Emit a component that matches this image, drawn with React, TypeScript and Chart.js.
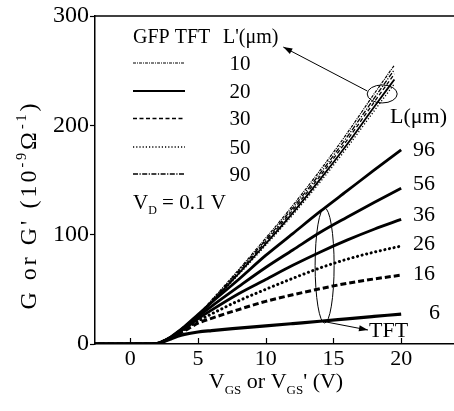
import React, { useEffect, useRef } from "react";
import { Chart, registerables } from "chart.js";

Chart.register(...registerables);

// ---------- data ----------
const tftVgs = [-3, 0, 1, 2, 2.5, 3, 3.5, 4, 5, 6, 8, 10, 12, 14, 16, 18, 20];
const gfpVgs = [-3, 0, 1, 2, 2.5, 3, 3.5, 4, 5, 6, 8, 10, 12, 14, 16, 18, 19.5];

const tftLengths = ["96", "56", "36", "26", "16", "6"];
const tftL96 = [0, 0, 0, 0.5, 3, 6.5, 11, 16, 27, 38, 59, 81, 101, 121, 140, 159, 177.5];
const tftL56 = [0, 0, 0, 0.5, 3, 6.3, 10.5, 15, 25, 34.5, 52.5, 70, 86, 102, 116, 129.5, 142.5];
const tftL36 = [0, 0, 0, 0.5, 2.9, 6, 10, 14, 23, 31, 46, 59, 72, 84, 95, 105, 114];
const tftL26 = [0, 0, 0, 0.5, 2.8, 5.8, 9.5, 13, 21, 27.5, 39.5, 50, 60, 69.5, 77.5, 84, 89.6];
const tftL16 = [0, 0, 0, 0.5, 2.7, 5.6, 9, 12, 19, 23.5, 31.5, 39, 45, 50.5, 55.5, 59.5, 63];
const tftL6 = [0, 0, 0, 0.4, 2.2, 4.6, 7, 8.8, 11, 12.3, 14.5, 16.6, 18.7, 20.8, 23, 25.2, 27.4];

const gfpLengths = ["10", "20", "30", "50", "90"];
const gfpL10 = [0, 0, 0, 0.5, 3.1, 6.7, 11.3, 16.5, 26.8, 40.2, 68, 96.8, 126.7, 158.6, 192.6, 228.7, 255];
const gfpL20 = [0, 0, 0, 0.5, 2.9, 6.3, 10.7, 15.6, 25.4, 38.1, 64.4, 91.7, 120, 150.3, 182.5, 216.7, 242];
const gfpL30 = [0, 0, 0, 0.5, 3, 6.5, 11, 15.9, 25.9, 38.8, 65.7, 93.6, 122.5, 153.4, 186.3, 221.1, 247];
const gfpL50 = [0, 0, 0, 0.5, 2.9, 6.2, 10.6, 15.4, 25, 37.4, 63.4, 90.2, 118.1, 147.8, 179.5, 213.1, 238];
const gfpL90 = [0, 0, 0, 0.5, 3, 6.6, 11.1, 16.2, 26.3, 39.5, 66.8, 95.1, 124.5, 155.8, 189.2, 224.6, 251];

const xTickValues = [0, 5, 10, 15, 20];
const yTickValues = [0, 100, 200, 300];

const FONT = "'Liberation Serif', 'DejaVu Serif', serif";

type Style = { width: number; dash: number[]; cap?: CanvasLineCap };

const tftSeries = [tftL96, tftL56, tftL36, tftL26, tftL16, tftL6];
const tftStyles: Style[] = [
  { width: 2.8, dash: [] },
  { width: 2.8, dash: [] },
  { width: 2.8, dash: [] },
  { width: 3, dash: [0.1, 4.6], cap: "round" },
  { width: 3, dash: [6, 3] },
  { width: 3.2, dash: [] },
];

const gfpSeries = [gfpL10, gfpL20, gfpL30, gfpL50, gfpL90];
const gfpStyles: Style[] = [
  { width: 1.2, dash: [3, 1, 1, 1] },
  { width: 1.8, dash: [] },
  { width: 1.3, dash: [4, 2.5] },
  { width: 1.3, dash: [1.2, 2] },
  { width: 1.3, dash: [5, 1.5, 1.2, 1.5] },
];

function pairs(xs: number[], ys: number[]) {
  return xs.map((x, i) => ({ x, y: ys[i] }));
}

function drawArrow(ctx: CanvasRenderingContext2D, x1: number, y1: number, x2: number, y2: number) {
  ctx.beginPath();
  ctx.moveTo(x1, y1);
  ctx.lineTo(x2, y2);
  ctx.stroke();
  const a = Math.atan2(y2 - y1, x2 - x1);
  const len = 9;
  const w = 3;
  ctx.beginPath();
  ctx.moveTo(x2, y2);
  ctx.lineTo(x2 - len * Math.cos(a) + w * Math.sin(a), y2 - len * Math.sin(a) - w * Math.cos(a));
  ctx.lineTo(x2 - len * Math.cos(a) - w * Math.sin(a), y2 - len * Math.sin(a) + w * Math.cos(a));
  ctx.closePath();
  ctx.fill();
}

type Piece = { t: string; size: number; dy: number };

function measurePieces(ctx: CanvasRenderingContext2D, pieces: Piece[]) {
  let w = 0;
  for (const p of pieces) {
    ctx.font = `${p.size}px ${FONT}`;
    w += ctx.measureText(p.t).width;
  }
  return w;
}

function drawPieces(ctx: CanvasRenderingContext2D, pieces: Piece[], x: number, y: number) {
  let cx = x;
  for (const p of pieces) {
    ctx.font = `${p.size}px ${FONT}`;
    ctx.fillText(p.t, cx, y + p.dy);
    cx += ctx.measureText(p.t).width;
  }
}

const annotations = {
  id: "annotations",
  afterDraw(chart: any) {
    const ctx: CanvasRenderingContext2D = chart.ctx;
    const { left, right, top, bottom } = chart.chartArea;
    const xs = chart.scales.x;
    const ys = chart.scales.y;
    ctx.save();
    ctx.strokeStyle = "#000";
    ctx.fillStyle = "#000";

    // top frame line
    ctx.lineWidth = 1.5;
    ctx.beginPath();
    ctx.moveTo(left, top);
    ctx.lineTo(right, top);
    ctx.stroke();

    // inward x ticks
    ctx.lineWidth = 1.2;
    for (const v of xTickValues) {
      const px = Math.round(xs.getPixelForValue(v)) + 0.5;
      ctx.beginPath();
      ctx.moveTo(px, bottom);
      ctx.lineTo(px, bottom - 6);
      ctx.stroke();
    }

    // legend for GFP TFT
    ctx.textBaseline = "middle";
    ctx.textAlign = "left";
    ctx.font = `20px ${FONT}`;
    ctx.fillText("GFP TFT", left + 38, top + 22);
    ctx.fillText("L'(\u03bcm)", left + 128, top + 22);
    const rowY = [63, 91, 118.5, 147, 174];
    gfpStyles.forEach((s, i) => {
      const y = rowY[i];
      ctx.lineWidth = s.width;
      ctx.setLineDash(s.dash);
      ctx.beginPath();
      ctx.moveTo(left + 38, y);
      ctx.lineTo(left + 90, y);
      ctx.stroke();
      ctx.setLineDash([]);
      ctx.textAlign = "center";
      ctx.font = `21px ${FONT}`;
      ctx.fillText(gfpLengths[i], left + 145, y + 1);
      ctx.textAlign = "left";
    });

    // V_D = 0.1 V
    ctx.textBaseline = "alphabetic";
    drawPieces(
      ctx,
      [
        { t: "V", size: 21, dy: 0 },
        { t: "D", size: 12, dy: 5 },
        { t: " = 0.1 V", size: 21, dy: 0 },
      ],
      left + 38,
      209
    );

    // right-side labels
    ctx.textBaseline = "middle";
    ctx.font = `22px ${FONT}`;
    ctx.fillText("L(\u03bcm)", 390, 117);
    const labY = [150, 184, 215, 244, 274, 313];
    const labX = [413, 413, 413, 413, 413, 429];
    tftLengths.forEach((t, i) => ctx.fillText(t, labX[i], labY[i]));
    ctx.fillText("TFT", 369, 331);

    // ellipses and arrows
    ctx.lineWidth = 1;
    const g1x = xs.getPixelForValue(18.6);
    const g1y = ys.getPixelForValue(228.7);
    ctx.beginPath();
    ctx.ellipse(g1x, g1y, 15, 9, 0, 0, Math.PI * 2);
    ctx.stroke();
    drawArrow(ctx, g1x - 15, g1y - 3, xs.getPixelForValue(11.3), ys.getPixelForValue(271.6));

    const t1x = xs.getPixelForValue(14.35);
    const t1y = ys.getPixelForValue(71.8);
    ctx.beginPath();
    ctx.ellipse(t1x, t1y, 9.5, 57.5, 0, 0, Math.PI * 2);
    ctx.stroke();
    drawArrow(ctx, t1x - 1, t1y + 56, xs.getPixelForValue(17.55), ys.getPixelForValue(12.8));

    // x title
    ctx.textBaseline = "alphabetic";
    const xt: Piece[] = [
      { t: "V", size: 22, dy: 0 },
      { t: "GS", size: 13, dy: 6 },
      { t: " or V", size: 22, dy: 0 },
      { t: "GS", size: 13, dy: 6 },
      { t: "' (V)", size: 22, dy: 0 },
    ];
    const xw = measurePieces(ctx, xt);
    drawPieces(ctx, xt, 276 - xw / 2, 388);

    // y title (rotated)
    ctx.save();
    ctx.translate(36, 205);
    ctx.rotate(-Math.PI / 2);
    (ctx as any).letterSpacing = "3px";
    const yt: Piece[] = [
      { t: "G or G' (10", size: 24, dy: 0 },
      { t: "-9", size: 14, dy: -10 },
      { t: "\u03a9", size: 24, dy: 0 },
      { t: "-1", size: 14, dy: -10 },
      { t: ")", size: 24, dy: 0 },
    ];
    const yw = measurePieces(ctx, yt);
    drawPieces(ctx, yt, -yw / 2, 0);
    ctx.restore();

    ctx.restore();
  },
};

export default function App() {
  const ref = useRef<HTMLCanvasElement | null>(null);

  useEffect(() => {
    if (!ref.current) return;
    const datasets: any[] = [];
    gfpSeries.forEach((ys, i) => {
      const s = gfpStyles[i];
      datasets.push({
        label: "GFP L'=" + gfpLengths[i],
        data: pairs(gfpVgs, ys),
        borderColor: "#000",
        borderWidth: s.width,
        borderDash: s.dash,
        pointRadius: 0,
        fill: false,
        cubicInterpolationMode: "monotone",
      });
    });
    tftSeries.forEach((ys, i) => {
      const s = tftStyles[i];
      datasets.push({
        label: "TFT L=" + tftLengths[i],
        data: pairs(tftVgs, ys),
        borderColor: "#000",
        borderWidth: s.width,
        borderDash: s.dash,
        borderCapStyle: s.cap || "butt",
        pointRadius: 0,
        fill: false,
        cubicInterpolationMode: "monotone",
      });
    });

    const chart = new Chart(ref.current, {
      type: "line",
      data: { datasets },
      options: {
        animation: false,
        responsive: false,
        devicePixelRatio: 1,
        layout: { padding: { top: 16, left: 0, right: 0, bottom: 0 } },
        plugins: { legend: { display: false }, tooltip: { enabled: false } },
        scales: {
          x: {
            type: "linear",
            min: -2.6,
            max: 23.9,
            afterBuildTicks: (scale: any) => {
              scale.ticks = xTickValues.map((v) => ({ value: v }));
            },
            afterFit: (scale: any) => {
              scale.height = 67;
            },
            ticks: {
              color: "#000",
              font: { family: FONT, size: 22 },
              padding: 2,
              maxRotation: 0,
            },
            grid: { drawOnChartArea: false, drawTicks: false },
            border: { color: "#000", width: 1.5 },
          },
          y: {
            type: "linear",
            min: 0,
            max: 300,
            afterBuildTicks: (scale: any) => {
              scale.ticks = yTickValues.map((v) => ({ value: v }));
            },
            afterFit: (scale: any) => {
              scale.width = 95;
            },
            ticks: {
              color: "#000",
              font: { family: FONT, size: 24 },
              padding: 1,
            },
            grid: { drawOnChartArea: false, drawTicks: true, tickLength: 5, color: "#000", tickWidth: 1.2 },
            border: { color: "#000", width: 1.5 },
          },
        },
      },
      plugins: [annotations],
    });
    return () => chart.destroy();
  }, []);

  return (
    <div style={{ position: "fixed", left: 0, top: 0, width: 454, height: 411, background: "#fff" }}>
      <canvas ref={ref} width={454} height={411} style={{ width: 454, height: 411, display: "block" }} />
    </div>
  );
}
